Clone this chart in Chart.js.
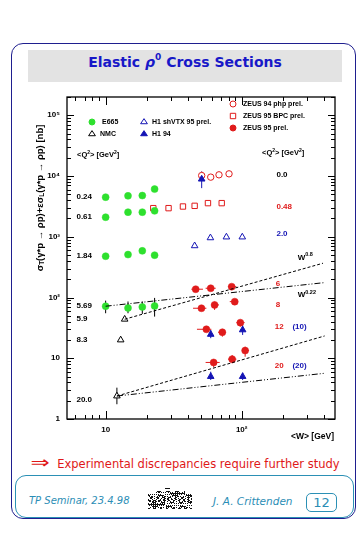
<!DOCTYPE html>
<html><head><meta charset="utf-8">
<script src="https://cdn.jsdelivr.net/npm/chart.js@4.4.0/dist/chart.umd.min.js"></script>
<style>
html,body{margin:0;padding:0;background:#fff;}
#wrap{position:relative;width:363px;height:535px;overflow:hidden;}
#frame{position:absolute;left:11px;top:43px;width:343px;height:474px;border:1.5px solid #1f1f8f;border-radius:12px;}
#tbox{position:absolute;left:28px;top:50px;width:314px;height:32px;background:#e3e3e3;}
#title{position:absolute;left:28px;top:53px;width:314px;height:30px;line-height:30px;text-align:center;font:bold 14px "DejaVu Sans";color:#1818c8;white-space:nowrap;}
#title i{font-style:italic;}
#title sup{font-size:9px;position:relative;top:-1px;}
#concl{position:absolute;left:30px;top:452px;height:20px;line-height:20px;font:11.5px "DejaVu Sans";color:#e01818;white-space:nowrap;}
#concl .arr{display:inline-block;font-size:17px;transform:scale(1.35,1);margin-right:10px;margin-left:3px;}
#foot{position:absolute;left:15px;top:475px;width:337px;height:41px;border:1.2px solid #2b90b5;border-radius:11px;}
.ft{position:absolute;top:495px;height:16px;line-height:16px;font:italic 10.5px "DejaVu Sans";color:#2b8db5;white-space:nowrap;}
#pg{position:absolute;left:306px;top:493px;width:29px;height:17px;border:1.2px solid #2b90b5;border-radius:5px;font:13px "DejaVu Sans";color:#2b8db5;text-align:center;line-height:17px;}
canvas{position:absolute;left:0;top:0;}
</style></head>
<body><div id="wrap">
<div id="frame"></div>
<div id="tbox"></div>
<div id="title">Elastic <i>ρ</i><sup>0</sup> Cross Sections</div>
<div id="concl"><span class="arr">⇒</span>Experimental discrepancies require further study</div>
<div id="foot"></div>
<div class="ft" style="left:29px;font-size:10px">TP Seminar, 23.4.98</div>
<div class="ft" style="left:213px">J. A. Crittenden</div>
<div id="pg">12</div>
<canvas id="c" width="363" height="535" style="width:363px;height:535px"></canvas>
</div>
<script>
// ---------------- data (W in GeV, sigma in nb) ----------------
const e665W     = [10.0, 14.6, 18.6, 22.9,  10.0, 14.6, 18.6, 22.9,  10.0, 14.6, 18.6, 22.9,  10.0, 14.6, 18.6, 22.9];
const e665Sigma = [4490, 4720, 4770, 6090,  2100, 2540, 2540, 2670,  479, 509, 586, 498,  71.9, 67.4, 70.0, 72.7];
const e665Lo    = [null,null,null,null, null,null,null,null, null,null,null,null, 55.1, 55.1, 53.7, 48.5];
const e665Hi    = [null,null,null,null, null,null,null,null, null,null,null,null, 88.9, 86.0, 86.0, 98.5];

const nmcW     = [13.8, 12.9, 12.1];
const nmcSigma = [43.9, 20.0, 2.39];
const nmcLo    = [null, null, 1.75];
const nmcHi    = [null, null, 3.28];

const h1vtxW     = [45.1, 58.9, 77.2, 101];
const h1vtxSigma = [710, 960, 990, 990];

const h194W     = [50.8, 59.2, 101.6, 59.2, 101.6];
const h194Sigma = [8890, 24.7, 29.3, 5.0, 5.0];
const h194Lo    = [6320, 21.4, 24.2, 4.39, 4.39];
const h194Hi    = [11860, 29.3, 37.7, 6.01, 5.79];

const zphpW     = [50.8, 59.2, 68.1, 80.7];
const zphpSigma = [10190, 9590, 10470, 10870];
const zphpLo    = [8900, null, null, null];
const zphpHi    = [11800, null, null, null];

const zbpcW     = [22.4, 29.0, 37.0, 45.1, 56.5, 71.3];
const zbpcSigma = [2960, 2960, 3150, 3230, 3580, 3580];
const zbpcLo    = [2700, 2700, 2870, 2950, 3270, 3270];
const zbpcHi    = [3250, 3250, 3450, 3530, 3920, 3920];

const z95W      = [45.9, 59.2, 84.4,  50.6, 63.2, 88.9,  55.0, 72.1, 97.7,  62.2, 85.1, 106];
const z95Sigma  = [137, 142, 151,  66.6, 75.5, 85.5,  30.0, 26.8, 38.6,  8.53, 9.67, 13.4];
const z95Lo     = [null, null, null,  null, 62.5, null,  null, 22.7, 33.2,  7.11, 8.27, 10.6];
const z95Hi     = [null, null, null,  null, 85.6, null,  null, 30.4, 42.8,  9.73, 11.3, 15.5];
const z95WLo    = [42.7, 54.3, 79.3,  43.9, 59.8, 81.7,  46.9, 67.0, 91.4,  54.3, 79.3, 101.2];
const z95WHi    = [51.9, 64.4, 91.4,  55.0, 68.1, 94.0,  59.8, 76.2, 105,   68.9, 91.4, 113];

// fitted power laws (end points)
const fitA_W = [10.0, 407], fitA_Sigma = [71.9, 176];   // W^0.22
const fitB_W = [13.8, 396], fitB_Sigma = [43.9, 367];   // W^0.8
const fitC_W = [12.1, 407], fitC_Sigma = [2.39, 23.3];  // W^0.8
const fitD_W = [12.1, 407], fitD_Sigma = [2.39, 5.66];  // W^0.22

// axis ticks
const yMajor = [1, 10, 100, 1000, 10000, 100000];
const yMajorLabels = ['1', '10', '10²', '10³', '10⁴', '10⁵'];
const xMajor = [10, 100];
const xMajorLabels = ['10', '10²'];

// Q^2 labels
const leftQ2 = ['0.24', '0.61', '1.84', '5.69', '5.9', '8.3', '20.0'];
const rightQ2 = ['0.0', '0.48', '2.0', '6', '8', '12', '20'];
const rightQ2H1 = ['', '', '', '', '', '(10)', '(20)'];

// ---------------- helpers ----------------
const pts = (xs, ys) => xs.map((v, i) => ({x: v, y: ys[i]}));
const pairs = (a, b) => a.map((v, i) => (v == null ? null : [v, b[i]]));
function buildTicks(lo, hi) {
  const out = [];
  for (let e = -1; e <= 6; e++) for (let m = 1; m <= 9; m++) {
    const v = m * Math.pow(10, e);
    const r = Math.round(v * 1000) / 1000;
    if (r >= lo && r <= hi) out.push(r);
  }
  return out;
}
const X_MIN = 5.2, X_MAX = 485, Y_MIN = 1, Y_MAX = 2.0e5;
const xTickVals = buildTicks(X_MIN, X_MAX);
const yTickVals = buildTicks(Y_MIN, Y_MAX);

const RED = '#e01b1b', BLUE = '#1414b4', GREEN = '#2ee02e';

const datasets = [
  {label:'fitA', data: pts(fitA_W, fitA_Sigma), showLine:true, pointRadius:0, borderColor:'#000', borderWidth:1, borderDash:[6,2,1,2,1,2]},
  {label:'fitB', data: pts(fitB_W, fitB_Sigma), showLine:true, pointRadius:0, borderColor:'#000', borderWidth:1, borderDash:[3,2]},
  {label:'fitC', data: pts(fitC_W, fitC_Sigma), showLine:true, pointRadius:0, borderColor:'#000', borderWidth:1, borderDash:[3,2]},
  {label:'fitD', data: pts(fitD_W, fitD_Sigma), showLine:true, pointRadius:0, borderColor:'#000', borderWidth:1, borderDash:[6,2,1,2,1,2]},
  {label:'E665', data: pts(e665W, e665Sigma), pointStyle:'circle', pointRadius:3.5, backgroundColor:GREEN, borderColor:GREEN, borderWidth:0.5, errY: pairs(e665Lo, e665Hi), errColor:'#000'},
  {label:'NMC', data: pts(nmcW, nmcSigma), pointStyle:'triangle', pointRadius:3.8, backgroundColor:'#fff', borderColor:'#000', borderWidth:1, errY: pairs(nmcLo, nmcHi), errColor:'#000'},
  {label:'H1 shVTX 95 prel.', data: pts(h1vtxW, h1vtxSigma), pointStyle:'triangle', pointRadius:3.8, backgroundColor:'#fff', borderColor:BLUE, borderWidth:1},
  {label:'H1 94', data: pts(h194W, h194Sigma), pointStyle:'triangle', pointRadius:3.8, backgroundColor:BLUE, borderColor:BLUE, borderWidth:1, errY: pairs(h194Lo, h194Hi), errColor:BLUE},
  {label:'ZEUS 94 php prel.', data: pts(zphpW, zphpSigma), pointStyle:'circle', pointRadius:3.2, backgroundColor:'#fff', borderColor:RED, borderWidth:1, errY: pairs(zphpLo, zphpHi), errColor:RED},
  {label:'ZEUS 95 BPC prel.', data: pts(zbpcW, zbpcSigma), pointStyle:'rect', pointRadius:3.8, backgroundColor:'#fff', borderColor:RED, borderWidth:1, errY: pairs(zbpcLo, zbpcHi), errColor:RED},
  {label:'ZEUS 95 prel.', data: pts(z95W, z95Sigma), pointStyle:'circle', pointRadius:3.5, backgroundColor:RED, borderColor:RED, borderWidth:0.5, errY: pairs(z95Lo, z95Hi), errX: pairs(z95WLo, z95WHi), errColor:RED}
];

const errPlugin = {
  id: 'errbars',
  beforeDatasetsDraw(chart) {
    const {ctx, scales: {x, y}} = chart;
    ctx.save();
    ctx.lineWidth = 1;
    chart.data.datasets.forEach(ds => {
      if (!ds.errY && !ds.errX) return;
      ctx.strokeStyle = ds.errColor || ds.borderColor;
      ds.data.forEach((p, i) => {
        const px = x.getPixelForValue(p.x), py = y.getPixelForValue(p.y);
        const ey = ds.errY && ds.errY[i];
        if (ey) { ctx.beginPath(); ctx.moveTo(px, y.getPixelForValue(ey[0])); ctx.lineTo(px, y.getPixelForValue(ey[1])); ctx.stroke(); }
        const ex = ds.errX && ds.errX[i];
        if (ex) { ctx.beginPath(); ctx.moveTo(x.getPixelForValue(ex[0]), py); ctx.lineTo(x.getPixelForValue(ex[1]), py); ctx.stroke(); }
      });
    });
    ctx.restore();
  }
};

function marker(ctx, style, cx, cy, r, fill, stroke) {
  ctx.beginPath();
  if (style === 'circle') ctx.arc(cx, cy, r, 0, Math.PI * 2);
  else if (style === 'rect') ctx.rect(cx - r * 0.9, cy - r * 0.9, r * 1.8, r * 1.8);
  else { const h = r * 1.5; ctx.moveTo(cx, cy - h * 0.66); ctx.lineTo(cx + r, cy + h * 0.34); ctx.lineTo(cx - r, cy + h * 0.34); ctx.closePath(); }
  ctx.fillStyle = fill; ctx.fill();
  ctx.strokeStyle = stroke; ctx.lineWidth = 1; ctx.stroke();
}
function rich(ctx, parts, x, y, align) {
  let total = 0;
  parts.forEach(p => { ctx.font = p[1]; total += ctx.measureText(p[0]).width; });
  let cx = align === 'center' ? x - total / 2 : (align === 'right' ? x - total : x);
  ctx.textAlign = 'left';
  parts.forEach(p => { ctx.font = p[1]; ctx.fillText(p[0], cx, y + (p[2] || 0)); cx += ctx.measureText(p[0]).width; });
}
const isDecade = v => Math.abs(Math.log10(v) - Math.round(Math.log10(v))) < 1e-9;

const F = 'Liberation Sans';
const annotPlugin = {
  id: 'annot',
  afterDraw(chart) {
    const {ctx, chartArea: a, scales: {x, y}} = chart;
    ctx.save();
    ctx.strokeStyle = '#000'; ctx.lineWidth = 1.3;
    ctx.strokeRect(a.left, a.top, a.right - a.left, a.bottom - a.top);
    ctx.lineWidth = 1;
    y.ticks.forEach(t => {
      const py = Math.round(y.getPixelForValue(t.value)) + 0.5, L = isDecade(t.value) ? 7 : 4;
      ctx.beginPath(); ctx.moveTo(a.left, py); ctx.lineTo(a.left + L, py); ctx.moveTo(a.right, py); ctx.lineTo(a.right - L, py); ctx.stroke();
    });
    x.ticks.forEach(t => {
      const px = Math.round(x.getPixelForValue(t.value)) + 0.5, L = isDecade(t.value) ? 8 : 4;
      ctx.beginPath(); ctx.moveTo(px, a.bottom); ctx.lineTo(px, a.bottom - L); ctx.moveTo(px, a.top); ctx.lineTo(px, a.top + L); ctx.stroke();
    });
    ctx.textBaseline = 'middle';
    const lf = 'bold 7px "' + F + '"';
    const leg = [
      ['circle', 92, 122, GREEN, GREEN, 'E665'],
      ['triangle', 92, 134, '#fff', '#000', 'NMC'],
      ['triangle', 144, 122, '#fff', BLUE, 'H1 shVTX 95 prel.'],
      ['triangle', 144, 134, BLUE, BLUE, 'H1 94'],
      ['circle', 233, 104, '#fff', RED, 'ZEUS 94 php prel.'],
      ['rect', 233, 116, '#fff', RED, 'ZEUS 95 BPC prel.'],
      ['circle', 233, 128, RED, RED, 'ZEUS 95 prel.']
    ];
    leg.forEach(l => {
      marker(ctx, l[0], l[1], l[2], l[0] === 'triangle' ? 3.4 : 3, l[3], l[4]);
      ctx.fillStyle = '#000'; ctx.font = lf; ctx.textAlign = 'left';
      ctx.fillText(l[5], l[1] + (l[0] === 'triangle' ? 8 : 10), l[2] + 0.5);
    });
    const hf = 'bold 7.5px "' + F + '"', hs = 'bold 5px "' + F + '"';
    ctx.fillStyle = '#000';
    rich(ctx, [['<Q', hf], ['2', hs, -2.5], ['> [GeV', hf], ['2', hs, -2.5], [']', hf]], 77, 155, 'left');
    rich(ctx, [['<Q', hf], ['2', hs, -2.5], ['> [GeV', hf], ['2', hs, -2.5], [']', hf]], 262, 153, 'left');
    const qf = 'bold 8px "' + F + '"';
    const leftAnchor = [4490, 2100, 479, 71.9, 43.9, 20.0, 2.1];
    ctx.font = qf; ctx.textAlign = 'left'; ctx.fillStyle = '#000';
    leftQ2.forEach((t, i) => ctx.fillText(t, x.getPixelForValue(6.1), y.getPixelForValue(leftAnchor[i])));
    const rightAnchor = [10300, 3150, 1100, 167, 75.5, 33.2, 7.5];
    const rightX = [180, 180, 180, 178, 178, 175, 175];
    const rightCol = ['#000', RED, BLUE, RED, RED, RED, RED];
    rightQ2.forEach((t, i) => {
      ctx.fillStyle = rightCol[i]; ctx.font = qf;
      const py = y.getPixelForValue(rightAnchor[i]);
      ctx.fillText(t, x.getPixelForValue(rightX[i]), py);
      if (rightQ2H1[i]) { ctx.fillStyle = BLUE; ctx.fillText(rightQ2H1[i], x.getPixelForValue(236), py); }
    });
    ctx.fillStyle = '#000';
    const wf = 'bold 8px "' + F + '"', ws = 'bold 5.5px "' + F + '"';
    rich(ctx, [['W', wf], ['0.8', ws, -3]], x.getPixelForValue(258), y.getPixelForValue(449), 'left');
    rich(ctx, [['W', wf], ['0.22', ws, -3]], x.getPixelForValue(258), y.getPixelForValue(110), 'left');
    ctx.font = 'bold 8.5px "' + F + '"'; ctx.textAlign = 'right'; ctx.fillStyle = '#000';
    ctx.fillText('<W> [GeV]', a.right - 1, a.bottom + 18);
    ctx.save();
    ctx.translate(40, 198); ctx.rotate(-Math.PI / 2);
    const tf = 'bold 9.5px "' + F + '"', tsub = 'bold 6.5px "' + F + '"';
    ctx.fillStyle = '#000';
    rich(ctx, [['σ', tf], ['T', tsub, 2.5], ['(γ*p → ρp)+εσ', tf], ['L', tsub, 2.5], ['(γ*p → ρp) [nb]', tf]], 0, 0, 'center');
    ctx.restore();
    // small logo (deterministic dither pattern)
    ctx.fillStyle = '#111';
    for (let i = 0; i < 44; i++) for (let j = 0; j < 18; j++) {
      const h = (i * 37 + j * 61 + ((i * j) % 11) * 13) % 9;
      if (h < 4 && !(j < 3 && (i < 8 || i > 36))) ctx.fillRect(148 + i, 491 + j, 1, 1);
    }
    ctx.fillRect(165, 488, 5, 1);
    ctx.restore();
  }
};

new Chart(document.getElementById('c'), {
  type: 'scatter',
  data: { datasets },
  options: {
    responsive: false, animation: false, devicePixelRatio: 1,
    layout: { padding: { left: 37, right: 28, top: 97, bottom: 96 } },
    plugins: { legend: { display: false }, tooltip: { enabled: false } },
    elements: { line: { tension: 0 } },
    scales: {
      x: {
        type: 'logarithmic', min: X_MIN, max: X_MAX,
        afterFit: s => { s.height = 20; },
        afterBuildTicks: s => { s.ticks = xTickVals.map(v => ({ value: v })); },
        grid: { display: false, drawTicks: false }, border: { display: false },
        ticks: { autoSkip: false, maxRotation: 0, minRotation: 0, padding: 6, color: '#000',
          font: { family: F, weight: 'bold', size: 8 },
          callback: v => { const i = xMajor.indexOf(v); return i >= 0 ? xMajorLabels[i] : ''; } }
      },
      y: {
        type: 'logarithmic', min: Y_MIN, max: Y_MAX,
        afterFit: s => { s.width = 30; },
        afterBuildTicks: s => { s.ticks = yTickVals.map(v => ({ value: v })); },
        grid: { display: false, drawTicks: false }, border: { display: false },
        ticks: { autoSkip: false, padding: 7, color: '#000',
          font: { family: F, weight: 'bold', size: 8 },
          callback: v => { const i = yMajor.indexOf(v); return i >= 0 ? yMajorLabels[i] : ''; } }
      }
    }
  },
  plugins: [errPlugin, annotPlugin]
});
</script>
</body></html>
